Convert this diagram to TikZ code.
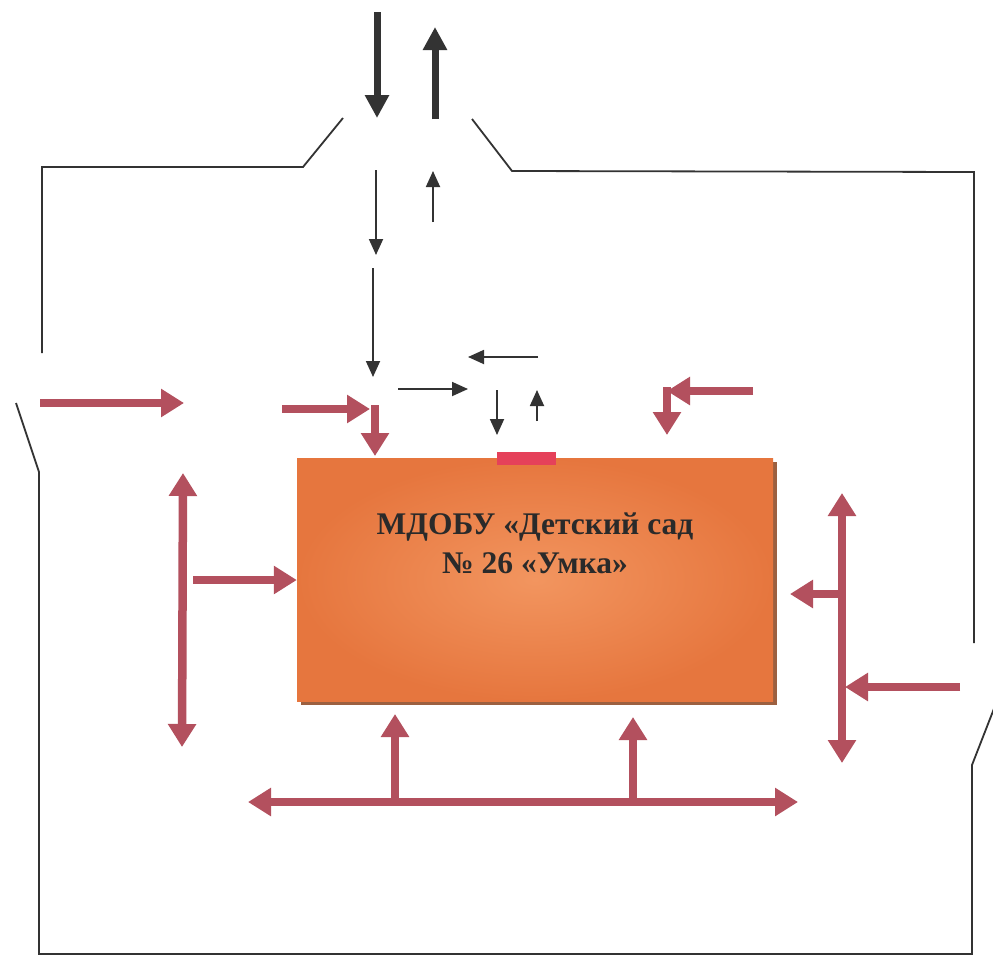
\documentclass[tikz,border=0pt]{standalone}
\usepackage{fontspec}
\setmainfont{Liberation Serif}
\usetikzlibrary{arrows.meta,shadows}
\definecolor{rose}{HTML}{B3505E}
\definecolor{inkgray}{HTML}{333333}
\definecolor{boxdark}{HTML}{E6763E}
\definecolor{boxlight}{HTML}{F2955F}
\definecolor{boxshadow}{HTML}{9C6040}
\definecolor{tabred}{HTML}{E5415A}
\definecolor{textdark}{HTML}{2A2A2A}
\tikzset{
  outline/.style={draw=inkgray, line width=1.8pt, line join=miter},
  bigblack/.style={draw=inkgray, line width=7pt, -{Triangle[length=23pt,width=23pt]}},
  thinblack/.style={draw=inkgray, line width=1.8pt, -{Triangle[length=16pt,width=14pt]}},
  redarrow/.style={draw=rose, line width=8.5pt, -{Triangle[length=23pt,width=27pt]}},
  reddouble/.style={draw=rose, line width=8.5pt, {Triangle[length=23pt,width=27pt]}-{Triangle[length=23pt,width=27pt]}},
  orgbox/.style={rectangle, inner sep=0pt, minimum width=476pt, minimum height=243pt,
     inner color=boxlight, outer color=boxdark,
     drop shadow={shadow xshift=4pt, shadow yshift=-4pt, fill=boxshadow, opacity=1}},
  tabstyle/.style={rectangle, inner sep=0pt, minimum width=59pt, minimum height=13pt, fill=tabred},
  titletext/.style={align=center, font=\fontsize{31.5}{39}\selectfont\bfseries, text=textdark, inner sep=0pt}
}
\begin{document}
\begin{tikzpicture}[x=1pt,y=-1pt]
\useasboundingbox[fill=white] (0,0) rectangle (993,956);

% outline coordinates
\coordinate (o1) at (42,353);
\coordinate (o2) at (42,167);
\coordinate (o3) at (303,167);
\coordinate (o4) at (343,118);
\coordinate (o5) at (472,119);
\coordinate (o6) at (512,171);
\coordinate (o7) at (974,172);
\coordinate (o8) at (974,643);
\coordinate (o9) at (16,403);
\coordinate (o10) at (39,472);
\coordinate (o11) at (39,954);
\coordinate (o12) at (972,954);
\coordinate (o13) at (972,765);
\coordinate (o14) at (995,706);
\draw[outline] (o1) -- (o2) -- (o3) -- (o4);
\draw[outline] (o5) -- (o6) -- (o7) -- (o8);
\draw[outline] (o9) -- (o10) -- (o11) -- (o12) -- (o13) -- (o14);

% central box
\node[orgbox] (box) at (535,579.5) {};
\node[tabstyle] (tab) at (526.5,458.5) {};
\node[titletext] (title) at (535,543) {МДОБУ «Детский сад\\№ 26 «Умка»};

% black arrows
\coordinate (b1s) at (377,12);   \coordinate (b1e) at (377,118);
\coordinate (b2s) at (435,119);  \coordinate (b2e) at (435,27);
\draw[bigblack] (b1s) -- (b1e);
\draw[bigblack] (b2s) -- (b2e);
\coordinate (t1s) at (376,170);  \coordinate (t1e) at (376,255);
\coordinate (t2s) at (433,222);  \coordinate (t2e) at (433,171);
\coordinate (t3s) at (373,268);  \coordinate (t3e) at (373,377);
\coordinate (t4s) at (538,357);  \coordinate (t4e) at (468,357);
\coordinate (t5s) at (398,389);  \coordinate (t5e) at (468,389);
\coordinate (t6s) at (497,390);  \coordinate (t6e) at (497,435);
\coordinate (t7s) at (537,421);  \coordinate (t7e) at (537,390);
\draw[thinblack] (t1s) -- (t1e);
\draw[thinblack] (t2s) -- (t2e);
\draw[thinblack] (t3s) -- (t3e);
\draw[thinblack] (t4s) -- (t4e);
\draw[thinblack] (t5s) -- (t5e);
\draw[thinblack] (t6s) -- (t6e);
\draw[thinblack] (t7s) -- (t7e);

% red arrows
\coordinate (r1s) at (40,403);   \coordinate (r1e) at (184,403);
\coordinate (r2s) at (282,409);  \coordinate (r2e) at (370,409);
\coordinate (r3s) at (375,405);  \coordinate (r3e) at (375,456);
\coordinate (r4s) at (753,391);  \coordinate (r4e) at (667,391);
\coordinate (r5s) at (667,387);  \coordinate (r5e) at (667,435);
\coordinate (r6s) at (183,473);  \coordinate (r6e) at (182,747);
\coordinate (r7s) at (193,580);
\coordinate (r8s) at (842,493);  \coordinate (r8e) at (842,763);
\coordinate (r9s) at (842,594);  \coordinate (r9e) at (790,594);
\coordinate (r10s) at (960,687); \coordinate (r10e) at (845,687);
\coordinate (r11s) at (248,802); \coordinate (r11e) at (798,802);
\coordinate (r12s) at (395,802); \coordinate (r12e) at (395,714);
\coordinate (r13s) at (633,802); \coordinate (r13e) at (633,717);
\draw[redarrow] (r1s) -- (r1e);
\draw[redarrow] (r2s) -- (r2e);
\draw[redarrow] (r3s) -- (r3e);
\draw[redarrow] (r4s) -- (r4e);
\draw[redarrow] (r5s) -- (r5e);
\draw[reddouble] (r6s) -- (r6e);
\draw[redarrow] (r7s) -- (r7s -| box.west);
\draw[reddouble] (r8s) -- (r8e);
\draw[redarrow] (r9s) -- (r9e);
\draw[redarrow] (r10s) -- (r10e);
\draw[reddouble] (r11s) -- (r11e);
\draw[redarrow] (r12s) -- (r12e);
\draw[redarrow] (r13s) -- (r13e);
\end{tikzpicture}
\end{document}
